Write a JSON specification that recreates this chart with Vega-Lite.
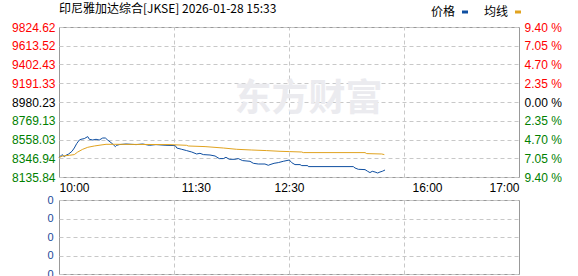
{
  "$schema": "https://vega.github.io/schema/vega-lite/v6.json",
  "background": "white",
  "padding": {"left": 11, "top": 2, "right": 0, "bottom": 0},
  "datasets": {
    "line": [
      {"t": 0, "v": 8354.3, "s": "价格"},
      {"t": 2.6, "v": 8388.0, "s": "价格"},
      {"t": 4.6, "v": 8365.5, "s": "价格"},
      {"t": 6.1, "v": 8380.2, "s": "价格"},
      {"t": 8.4, "v": 8394.8, "s": "价格"},
      {"t": 11.3, "v": 8425.2, "s": "价格"},
      {"t": 13.3, "v": 8462.3, "s": "价格"},
      {"t": 15.4, "v": 8511.9, "s": "价格"},
      {"t": 17.7, "v": 8552.4, "s": "价格"},
      {"t": 19.1, "v": 8560.3, "s": "价格"},
      {"t": 22.0, "v": 8568.2, "s": "价格"},
      {"t": 25.0, "v": 8590.7, "s": "价格"},
      {"t": 26.4, "v": 8560.3, "s": "价格"},
      {"t": 29.3, "v": 8552.4, "s": "价格"},
      {"t": 32.2, "v": 8560.3, "s": "价格"},
      {"t": 35.0, "v": 8552.4, "s": "价格"},
      {"t": 38.0, "v": 8574.9, "s": "价格"},
      {"t": 40.3, "v": 8574.9, "s": "价格"},
      {"t": 42.3, "v": 8552.4, "s": "价格"},
      {"t": 45.2, "v": 8523.1, "s": "价格"},
      {"t": 47.2, "v": 8500.6, "s": "价格"},
      {"t": 49.0, "v": 8478.1, "s": "价格"},
      {"t": 50.2, "v": 8492.7, "s": "价格"},
      {"t": 52.4, "v": 8500.6, "s": "价格"},
      {"t": 58.3, "v": 8507.3, "s": "价格"},
      {"t": 67.0, "v": 8500.6, "s": "价格"},
      {"t": 72.8, "v": 8507.3, "s": "价格"},
      {"t": 78.6, "v": 8492.7, "s": "价格"},
      {"t": 84.3, "v": 8500.6, "s": "价格"},
      {"t": 93.0, "v": 8492.7, "s": "价格"},
      {"t": 101.1, "v": 8489.3, "s": "价格"},
      {"t": 102.4, "v": 8462.3, "s": "价格"},
      {"t": 106.7, "v": 8447.7, "s": "价格"},
      {"t": 111.0, "v": 8433.1, "s": "价格"},
      {"t": 115.4, "v": 8417.3, "s": "价格"},
      {"t": 119.7, "v": 8394.8, "s": "价格"},
      {"t": 122.6, "v": 8402.7, "s": "价格"},
      {"t": 125.5, "v": 8388.0, "s": "价格"},
      {"t": 131.3, "v": 8383.5, "s": "价格"},
      {"t": 135.7, "v": 8372.3, "s": "价格"},
      {"t": 139.4, "v": 8343.0, "s": "价格"},
      {"t": 142.9, "v": 8343.0, "s": "价格"},
      {"t": 145.2, "v": 8357.6, "s": "价格"},
      {"t": 148.1, "v": 8335.1, "s": "价格"},
      {"t": 153.0, "v": 8335.1, "s": "价格"},
      {"t": 155.9, "v": 8343.0, "s": "价格"},
      {"t": 159.7, "v": 8320.5, "s": "价格"},
      {"t": 166.1, "v": 8312.6, "s": "价格"},
      {"t": 169.0, "v": 8290.1, "s": "价格"},
      {"t": 173.3, "v": 8282.2, "s": "价格"},
      {"t": 179.1, "v": 8282.2, "s": "价格"},
      {"t": 182.0, "v": 8267.6, "s": "价格"},
      {"t": 183.5, "v": 8275.5, "s": "价格"},
      {"t": 187.0, "v": 8290.1, "s": "价格"},
      {"t": 190.7, "v": 8297.9, "s": "价格"},
      {"t": 195.0, "v": 8312.6, "s": "价格"},
      {"t": 200.3, "v": 8327.2, "s": "价格"},
      {"t": 202.3, "v": 8297.9, "s": "价格"},
      {"t": 205.2, "v": 8275.5, "s": "价格"},
      {"t": 209.6, "v": 8275.5, "s": "价格"},
      {"t": 211.1, "v": 8264.2, "s": "价格"},
      {"t": 216.3, "v": 8264.2, "s": "价格"},
      {"t": 216.8, "v": 8252.9, "s": "价格"},
      {"t": 255.9, "v": 8252.9, "s": "价格"},
      {"t": 257.4, "v": 8237.2, "s": "价格"},
      {"t": 260.3, "v": 8222.5, "s": "价格"},
      {"t": 266.1, "v": 8219.1, "s": "价格"},
      {"t": 268.4, "v": 8200.0, "s": "价格"},
      {"t": 270.4, "v": 8185.4, "s": "价格"},
      {"t": 272.4, "v": 8200.0, "s": "价格"},
      {"t": 274.8, "v": 8192.1, "s": "价格"},
      {"t": 277.1, "v": 8180.8, "s": "价格"},
      {"t": 279.1, "v": 8192.1, "s": "价格"},
      {"t": 281.1, "v": 8200.0, "s": "价格"},
      {"t": 283.5, "v": 8214.6, "s": "价格"},
      {"t": 0, "v": 8354.3, "s": "均线"},
      {"t": 3.2, "v": 8372.3, "s": "均线"},
      {"t": 9.0, "v": 8380.2, "s": "均线"},
      {"t": 13.3, "v": 8388.0, "s": "均线"},
      {"t": 16.3, "v": 8417.3, "s": "均线"},
      {"t": 20.6, "v": 8447.7, "s": "均线"},
      {"t": 25.0, "v": 8470.2, "s": "均线"},
      {"t": 30.7, "v": 8484.9, "s": "均线"},
      {"t": 36.5, "v": 8496.1, "s": "均线"},
      {"t": 40.9, "v": 8504.0, "s": "均线"},
      {"t": 48.1, "v": 8504.0, "s": "均线"},
      {"t": 96.5, "v": 8500.6, "s": "均线"},
      {"t": 111.0, "v": 8492.7, "s": "均线"},
      {"t": 112.4, "v": 8484.9, "s": "均线"},
      {"t": 127.0, "v": 8478.1, "s": "均线"},
      {"t": 142.9, "v": 8462.3, "s": "均线"},
      {"t": 154.5, "v": 8447.7, "s": "均线"},
      {"t": 167.6, "v": 8439.8, "s": "均线"},
      {"t": 180.6, "v": 8433.1, "s": "均线"},
      {"t": 192.2, "v": 8425.2, "s": "均线"},
      {"t": 200.3, "v": 8421.8, "s": "均线"},
      {"t": 211.1, "v": 8417.3, "s": "均线"},
      {"t": 212.4, "v": 8410.5, "s": "均线"},
      {"t": 266.1, "v": 8410.5, "s": "均线"},
      {"t": 267.6, "v": 8399.3, "s": "均线"},
      {"t": 280.6, "v": 8394.8, "s": "均线"},
      {"t": 282.9, "v": 8388.0, "s": "均线"}
    ]
  },
  "config": {
    "view": {"stroke": "#999999", "strokeWidth": 1},
    "font": "Liberation Sans",
    "axis": {
      "labelFont": "Liberation Sans",
      "labelFontSize": 12,
      "title": null,
      "domain": false,
      "ticks": false,
      "gridColor": "#c8c8c8",
      "gridDash": [4, 3],
      "gridWidth": 1,
      "labelColor": "#000000"
    }
  },
  "spacing": -1,
  "vconcat": [
    {
      "width": 460,
      "height": 150,
      "title": {
        "text": "印尼雅加达综合[JKSE] 2026-01-28 15:33",
        "anchor": "start",
        "frame": "group",
        "font": "Noto Sans CJK SC",
        "fontSize": 12,
        "fontWeight": "normal",
        "color": "#000000",
        "offset": 5
      },
      "resolve": {"axis": {"x": "independent", "y": "independent"}},
      "layer": [
        {
          "data": {"values": [{"label": "东方财富"}]},
          "mark": {"type": "text", "font": "Noto Sans CJK SC", "fontWeight": "bold", "fontSize": 37, "color": "#ebebef"},
          "encoding": {
            "x": {
              "datum": 217,
              "type": "quantitative",
              "scale": {"domain": [0, 400], "nice": false},
              "axis": {"orient": "top", "values": [100, 200, 300], "labels": false, "grid": true}
            },
            "y": {
              "datum": 9000,
              "type": "quantitative",
              "scale": {"domain": [8135.84, 9824.62], "nice": false, "zero": false},
              "axis": {
                "orient": "right",
                "values": [8135.84, 8346.94, 8558.03, 8769.13, 8980.23, 9191.33, 9402.43, 9613.52, 9824.62],
                "grid": false,
                "labelPadding": 5,
                "labelExpr": "format(abs(datum.value - 8980.23) / 8980.23 * 100, '.2f') + ' %'",
                "labelColor": {
                  "condition": [
                    {"test": "datum.value > 8981", "value": "#ff0000"},
                    {"test": "datum.value < 8979", "value": "#008000"}
                  ],
                  "value": "#000000"
                }
              }
            },
            "text": {"field": "label"}
          }
        },
        {
          "data": {"name": "line"},
          "mark": {"type": "line", "strokeWidth": 1},
          "encoding": {
            "x": {
              "field": "t",
              "type": "quantitative",
              "scale": {"domain": [0, 400], "nice": false},
              "axis": {
                "orient": "bottom",
                "values": [0, 119, 200, 320, 400],
                "labelExpr": "datum.value == 0 ? '10:00' : datum.value == 119 ? '11:30' : datum.value == 200 ? '12:30' : datum.value == 320 ? '16:00' : '17:00'",
                "labelFlush": true,
                "grid": false,
                "labelPadding": 5
              }
            },
            "y": {
              "field": "v",
              "type": "quantitative",
              "scale": {"domain": [8135.84, 9824.62], "nice": false, "zero": false},
              "axis": {
                "orient": "left",
                "values": [8135.84, 8346.94, 8558.03, 8769.13, 8980.23, 9191.33, 9402.43, 9613.52, 9824.62],
                "format": ".2f",
                "grid": true,
                "labelPadding": 4,
                "labelColor": {
                  "condition": [
                    {"test": "datum.value > 8981", "value": "#ff0000"},
                    {"test": "datum.value < 8979", "value": "#008000"}
                  ],
                  "value": "#000000"
                }
              }
            },
            "color": {
              "field": "s",
              "type": "nominal",
              "scale": {"domain": ["价格", "均线"], "range": ["#0f4fa1", "#e1a31f"]},
              "legend": {
                "orient": "none",
                "legendX": 362,
                "legendY": -21,
                "direction": "horizontal",
                "title": null,
                "padding": 0,
                "labelFont": "Noto Sans CJK SC",
                "labelFontSize": 12,
                "labelColor": "#000000",
                "symbolType": "M35,0H41",
                "symbolStrokeWidth": 3,
                "symbolSize": 4,
                "labelAlign": "left",
                "labelOffset": -2,
                "columnPadding": -27
              }
            }
          }
        }
      ]
    },
    {
      "width": 460,
      "height": 74,
      "data": {"values": [{"vol": 0}]},
      "mark": {"type": "point", "opacity": 0},
      "encoding": {
        "x": {
          "datum": 0,
          "type": "quantitative",
          "scale": {"domain": [0, 400], "nice": false},
          "axis": {"values": [100, 200, 300], "labels": false, "grid": true}
        },
        "y": {
          "field": "vol",
          "type": "quantitative",
          "scale": {"domain": [0, 4], "nice": false},
          "axis": {
            "values": [0, 1, 2, 3, 4],
            "labelExpr": "'0'",
            "grid": true,
            "labelPadding": 6,
            "labelFontSize": 11,
            "labelColor": "#1a4a9a"
          }
        }
      }
    }
  ]
}
